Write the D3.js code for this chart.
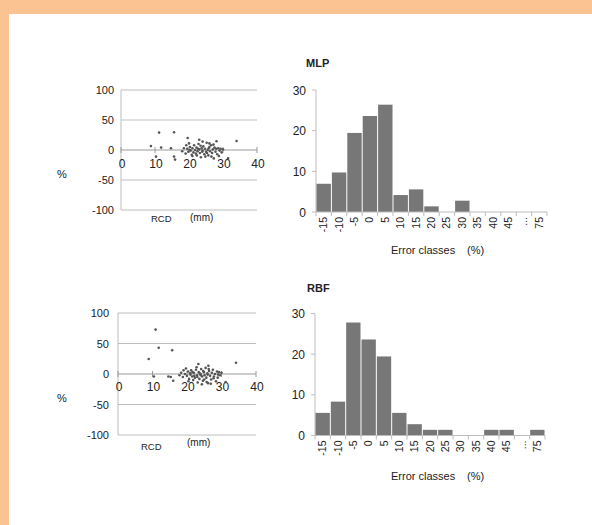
<!DOCTYPE html>
<html><head><meta charset="utf-8">
<script src="https://cdn.jsdelivr.net/npm/d3@7/dist/d3.min.js"></script>
<style>html,body{margin:0;padding:0;background:#fff;} text{font-family:"Liberation Sans",Arial,sans-serif;}</style>
</head><body>
<script>
// ---- data ----
const categories = ["-15","-10","-5","0","5","10","15","20","25","30","35","40","45","...","75"];
const mlpHist = [6.94,9.72,19.44,23.61,26.39,4.17,5.56,1.39,0,2.78,0,0,0,0,0];
const rbfHist = [5.56,8.33,27.78,23.61,19.44,5.56,2.78,1.39,1.39,0,0,1.39,1.39,0,1.39];
const histTicks = [0,10,20,30];
const scatterYTicks = [100,50,0,-50,-100];
const scatterXTicks = [0,10,20,30,40];
const mlpScatter = [
 [8.8,6.5],[10.3,-11],[11.2,29],[11.8,4],[14.7,3],[15.6,29.5],[15.6,-11],[15.9,-16],[19.6,20],[23,17],[28.1,14.5],[34,15],[31.5,-14],
 [18.0,-2],[18.5,3],[19.0,-6],[19.2,8],[19.5,2],[19.8,-3],[20.0,11],[20.3,5],[20.5,-1],[20.8,-8],[21.0,3],[21.3,-4],[21.5,8],[21.8,0],
 [22.0,-6],[22.2,4],[22.5,-2],[22.8,10],[23.0,1],[23.2,-5],[23.5,-12],[23.7,3],[24.0,-1],[24.2,6],[24.5,-7],[24.7,2],[25.0,-3],[25.2,12],
 [25.5,0],[25.7,-9],[26.0,5],[26.2,-2],[26.5,8],[26.8,-5],[27.0,1],[27.3,-14],[27.5,4],[27.8,-3],[28.0,2],[28.3,-7],[28.6,3],[29.0,-1],
 [29.3,2],[29.6,-4],[30.0,1],[21.0,-10],[24.0,14],[26.0,11],[22.3,-9],[23.4,7],[25.8,3],[27.2,9],[24.8,-11],[20.2,0],[26.6,-11],[28.8,-10],
 [22.7,2],[23.9,-3],[25.3,-5]
];
const rbfScatter = [
 [8.9,24.5],[10.9,72.8],[11.8,43],[15.7,39],[10.4,-4],[14.6,-4],[15.3,-5],[16.0,-11],[34.2,18.5],[23.3,16.5],[26.2,13.5],[31.2,-13],
 [17.8,-2],[18.3,2],[18.8,-5],[19.0,6],[19.4,0],[19.7,9],[20.0,-3],[20.3,4],[20.6,-8],[20.9,1],[21.2,6],[21.5,-4],[21.8,-10],[22.0,2],
 [22.3,-6],[22.6,7],[22.9,-2],[23.1,-14],[23.4,3],[23.6,-8],[23.9,0],[24.1,8],[24.4,-4],[24.6,-11],[24.9,3],[25.1,-2],[25.4,10],[25.6,-6],
 [25.9,1],[26.1,-15],[26.4,5],[26.7,-3],[27.0,-9],[27.2,2],[27.5,7],[27.8,-4],[28.1,0],[28.4,-12],[28.7,4],[29.0,-1],[29.3,3],[29.6,-2],
 [30.0,2],[21.0,-1],[22.8,11],[24.3,-17],[25.7,-13],[26.9,-16],[23.0,-5],[24.7,5],[20.4,-12],[27.7,-7],[26.3,8],[22.1,-3],[28.9,-6],
 [23.7,1],[25.0,-9],[21.6,3],[24.0,-2],[26.0,-1]
];

const W = 592, H = 525;
const ink = "#222";
const svg = d3.select("body").append("svg").attr("width", W).attr("height", H);
svg.append("rect").attr("width", W).attr("height", H).attr("fill", "#fbc292");
svg.append("rect").attr("x", 9).attr("y", 14).attr("width", W - 9).attr("height", H - 14).attr("fill", "#fff");

const grid = "#bdbdbd";

function scatter(data, o) {
  const g = svg.append("g");
  const x = d3.scaleLinear().domain([0, 40]).range([o.x0, o.x1]);
  const y = d3.scaleLinear().domain([-100, 100]).range([o.yb, o.yt]);
  g.selectAll("line.grid").data(scatterYTicks.filter(v => v !== 0)).join("line")
    .attr("x1", o.x0).attr("x2", o.x1).attr("y1", d => y(d)).attr("y2", d => y(d))
    .attr("stroke", grid).attr("stroke-width", 1);
  g.append("line").attr("x1", o.x0).attr("x2", o.x0).attr("y1", y(100)).attr("y2", y(-100))
    .attr("stroke", grid);
  g.append("line").attr("x1", o.x0).attr("x2", o.x1).attr("y1", y(0)).attr("y2", y(0)).attr("stroke", "#999");
  g.selectAll("line.xt").data(scatterXTicks).join("line")
    .attr("x1", d => x(d)).attr("x2", d => x(d)).attr("y1", y(0) - 3).attr("y2", y(0) + 3).attr("stroke", "#999");
  g.selectAll("text.yl").data(scatterYTicks).join("text")
    .attr("x", o.x0 - o.ylOff).attr("y", d => y(d) + 4).attr("text-anchor", "end")
    .attr("font-size", 11).attr("fill", ink).text(d => d);
  g.selectAll("text.xl").data(scatterXTicks).join("text")
    .attr("x", d => x(d) + o.xlShift).attr("y", o.xlBase).attr("text-anchor", "middle")
    .attr("font-size", 12).attr("fill", ink).text(d => d);
  g.selectAll("circle").data(data).join("circle")
    .attr("cx", d => x(d[0])).attr("cy", d => y(d[1])).attr("r", 1.3).attr("fill", "#555");
  g.append("text").attr("x", 57).attr("y", o.pctY).attr("font-size", 11).attr("fill", ink).text("%");
  g.append("text").attr("x", o.rcdX).attr("y", o.rcdY).attr("font-size", 9.5).attr("fill", ink).text("RCD");
  g.append("text").attr("x", o.mmX).attr("y", o.mmY).attr("font-size", 10).attr("fill", ink).text("(mm)");
}

function hist(vals, o) {
  const g = svg.append("g");
  const x = d3.scaleBand().domain(categories).range([o.x0, o.x1]).padding(0);
  const y = d3.scaleLinear().domain([0, 30]).range([o.y0, o.y0 - 122]);
  g.append("line").attr("x1", o.x0).attr("x2", o.x0).attr("y1", y(30)).attr("y2", y(0)).attr("stroke", grid);
  g.selectAll("line.yt").data(histTicks).join("line")
    .attr("x1", o.x0 - 4).attr("x2", o.x0).attr("y1", d => y(d)).attr("y2", d => y(d)).attr("stroke", grid);
  g.selectAll("text.yl").data(histTicks).join("text")
    .attr("x", o.x0 - 10).attr("y", d => y(d) + 4.5).attr("text-anchor", "end")
    .attr("font-size", 12).attr("fill", ink).text(d => d);
  g.selectAll("rect").data(vals.map((v, i) => [categories[i], v]).filter(d => d[1] > 0)).join("rect")
    .attr("x", d => x(d[0]) + 0.5).attr("width", x.bandwidth() - 1)
    .attr("y", d => y(d[1])).attr("height", d => y(0) - y(d[1]))
    .attr("fill", "#777");
  g.append("line").attr("x1", o.x0).attr("x2", o.x1).attr("y1", y(0)).attr("y2", y(0)).attr("stroke", grid);
  const bounds = categories.map(c => x(c)).concat([o.x1]);
  g.selectAll("line.xt").data(bounds).join("line")
    .attr("x1", d => d).attr("x2", d => d).attr("y1", y(0)).attr("y2", y(0) + 4).attr("stroke", grid);
  g.selectAll("text.xl").data(categories).join("text")
    .attr("transform", d => `translate(${x(d) + x.bandwidth() / 2 + 3.5},${y(0) + 5}) rotate(-90)`)
    .attr("text-anchor", "end").attr("font-size", 10.5).attr("fill", ink).text(d => d);
  g.append("text").attr("x", o.tx).attr("y", o.ty).attr("font-size", 11).attr("font-weight", "bold").attr("fill", ink).text(o.title);
  g.append("text").attr("x", 391).attr("y", o.ey).attr("font-size", 11).attr("fill", ink).text("Error classes");
  g.append("text").attr("x", 467).attr("y", o.ey).attr("font-size", 11).attr("fill", ink).text("(%)");
}

scatter(mlpScatter, {x0: 121, x1: 257, yt: 90, yb: 210, ylOff: 7, xlShift: 1, xlBase: 168, pctY: 178, rcdX: 151, rcdY: 222, mmX: 190, mmY: 221});
scatter(rbfScatter, {x0: 118, x1: 256, yt: 313, yb: 435, ylOff: 9, xlShift: 1, xlBase: 391, pctY: 402, rcdX: 141, rcdY: 450, mmX: 187, mmY: 446});
hist(mlpHist, {x0: 316, x1: 547, y0: 212, tx: 306, ty: 67, title: "MLP", ey: 254});
hist(rbfHist, {x0: 315, x1: 545, y0: 435.5, tx: 307, ty: 292, title: "RBF", ey: 480});
</script>
</body></html>
